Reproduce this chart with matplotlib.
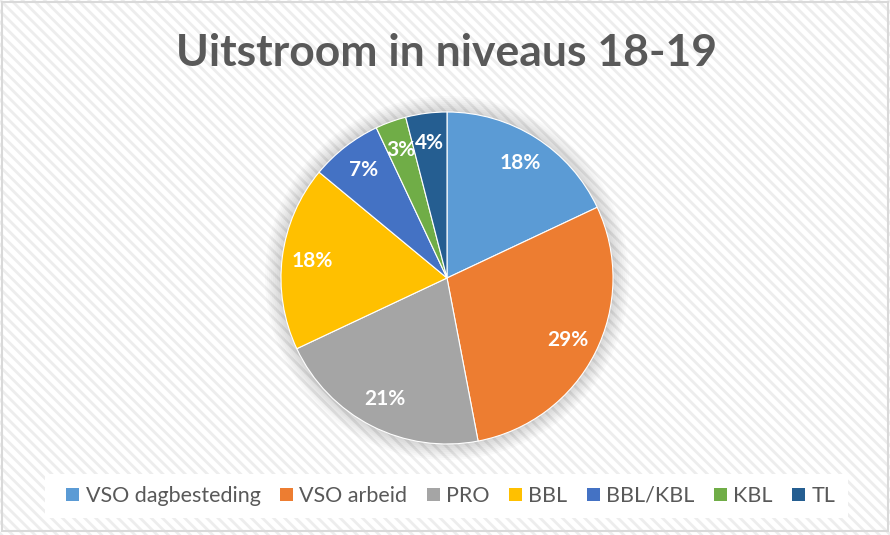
import matplotlib
matplotlib.use("Agg")
import matplotlib.pyplot as plt
from matplotlib.patches import Rectangle, Circle, Patch

categories = ["VSO dagbesteding", "VSO arbeid", "PRO", "BBL", "BBL/KBL", "KBL", "TL"]
values = [18, 29, 21, 18, 7, 3, 4]
colors = ["#5B9BD5", "#ED7D31", "#A5A5A5", "#FFC000", "#4472C4", "#70AD47", "#255E91"]
title = "Uitstroom in niveaus 18-19"

plt.rcParams["hatch.linewidth"] = 2.0
W, H = 890, 535
fig = plt.figure(figsize=(W / 100, H / 100), dpi=100)
fig.patch.set_facecolor("white")

# hatched background
bg = Rectangle((0, 0), 1, 1, transform=fig.transFigure, facecolor="white",
               edgecolor="#ededed", hatch="\\\\\\", linewidth=0, zorder=-10)
fig.patches.append(bg)
border = Rectangle((0.002, 0.008), 0.996, 0.988, transform=fig.transFigure, fill=False,
                   edgecolor="#d9d9d9", linewidth=1.5, zorder=-5)
fig.patches.append(border)

# legend white box
lx0, lx1, ly0, ly1 = 45, 848, 474, 518
fig.patches.append(Rectangle((lx0 / W, 1 - ly1 / H), (lx1 - lx0) / W, (ly1 - ly0) / H,
                             transform=fig.transFigure, facecolor="white", edgecolor="none",
                             zorder=-4))

cx, cy, R = 447, 278, 166
pad = 1.12
ax = fig.add_axes([(cx - R * pad) / W, (H - cy - R * pad) / H, 2 * R * pad / W, 2 * R * pad / H])

# soft shadow
for i in range(8):
    ax.add_patch(Circle((0, 0), 1.0 + 0.012 * (i + 1), facecolor="#000000", alpha=0.018,
                        edgecolor="none", zorder=0))

wedges, texts, autotexts = ax.pie(
    values, colors=colors, startangle=90, counterclock=False,
    autopct=lambda p: f"{p:.0f}%", pctdistance=0.82, radius=1.0,
    wedgeprops=dict(edgecolor="white", linewidth=0.8),
    textprops=dict(color="white", fontsize=15, fontweight="bold", family=["Lato", "DejaVu Sans"]),
)
for w in wedges:
    w.set_zorder(2)
for t in autotexts:
    t.set_zorder(3)
ax.set_xlim(-pad, pad)
ax.set_ylim(-pad, pad)
ax.set_aspect("equal")
ax.axis("off")

fig.text(cx / W, 1 - 53 / H, title, ha="center", va="center", fontsize=32,
         fontweight="bold", color="#595959", family=["Lato", "DejaVu Sans"])

handles = [Patch(facecolor=c, edgecolor="none") for c in colors]
fig.legend(handles, categories, loc="center", bbox_to_anchor=(451 / W, 1 - 496 / H),
           ncol=7, frameon=False, handlelength=0.6, handleheight=0.6, handletextpad=0.3,
           columnspacing=0.9, prop=dict(family=["Lato", "DejaVu Sans"], size=15.5),
           labelcolor="#595959")

fig.savefig("out.png", dpi=100)
